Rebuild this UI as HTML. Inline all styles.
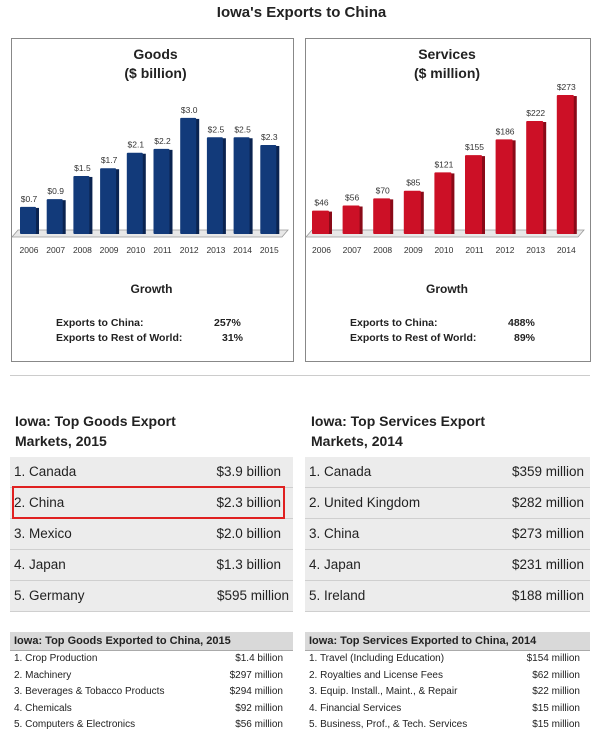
<!DOCTYPE html>
<html><head><meta charset="utf-8">
<style>
body{margin:0;width:603px;height:747px;background:#fff;font-family:"Liberation Sans",sans-serif;position:relative;overflow:hidden;color:#222}
.a{position:absolute}
.panel{position:absolute;border:1px solid #888;background:#fff}
.h{font-weight:bold;font-size:14px;line-height:20px}
.tbl{position:absolute;background:#ececec}
.row{height:30px;border-bottom:1px solid #cfcfcf;font-size:13.5px;line-height:30px;position:relative;padding-left:4px}
.row span.v{position:absolute;right:12px;top:0}
.st{position:absolute}
.st .hd{background:#d9d9d9;font-weight:bold;font-size:11px;height:18px;line-height:18px;padding-left:4px;border-bottom:1px solid #aaa}
.st .r{font-size:10px;height:16.5px;line-height:16.5px;position:relative;padding-left:4px}
.st .r span{position:absolute;right:10px}
</style></head><body>
<div class="a" style="left:0;width:603px;top:4px;text-align:center;font-weight:bold;font-size:15px">Iowa's Exports to China</div>

<div class="panel" style="left:11px;top:38px;width:281px;height:322px"></div>
<div class="panel" style="left:305px;top:38px;width:284px;height:322px"></div>

<svg class="a" style="left:0;top:0" width="603" height="370">
<g id="goods"></g><g id="services"></g>
</svg>

<div class="a" style="left:11px;width:289px;top:45px;text-align:center;font-weight:bold;font-size:14px;line-height:19px">Goods<br>($ billion)</div>
<div class="a" style="left:305px;width:284px;top:45px;text-align:center;font-weight:bold;font-size:14px;line-height:19px">Services<br>($ million)</div>

<div class="a" style="left:11px;width:281px;top:282px;text-align:center;font-weight:bold;font-size:12px">Growth</div>
<div class="a" style="left:56px;top:317px;font-weight:bold;font-size:10.5px">Exports to China:</div>
<div class="a" style="left:214px;top:317px;font-weight:bold;font-size:10.5px">257%</div>
<div class="a" style="left:56px;top:332px;font-weight:bold;font-size:10.5px">Exports to Rest of World:</div>
<div class="a" style="left:222px;top:332px;font-weight:bold;font-size:10.5px">31%</div>

<div class="a" style="left:305px;width:284px;top:282px;text-align:center;font-weight:bold;font-size:12px">Growth</div>
<div class="a" style="left:350px;top:317px;font-weight:bold;font-size:10.5px">Exports to China:</div>
<div class="a" style="left:508px;top:317px;font-weight:bold;font-size:10.5px">488%</div>
<div class="a" style="left:350px;top:332px;font-weight:bold;font-size:10.5px">Exports to Rest of World:</div>
<div class="a" style="left:514px;top:332px;font-weight:bold;font-size:10.5px">89%</div>

<div class="a" style="left:10px;top:375px;width:580px;height:1px;background:#ccc"></div>

<div class="a h" style="left:15px;top:411px">Iowa: Top Goods Export<br>Markets, 2015</div>
<div class="a h" style="left:311px;top:411px">Iowa: Top Services Export<br>Markets, 2014</div>

<div class="tbl" style="left:10px;top:457px;width:283px">
<div class="row">1. Canada<span class="v">$3.9 billion</span></div>
<div class="row">2. China<span class="v">$2.3 billion</span></div>
<div class="row">3. Mexico<span class="v">$2.0 billion</span></div>
<div class="row">4. Japan<span class="v">$1.3 billion</span></div>
<div class="row">5. Germany<span class="v" style="right:4px">$595 million</span></div>
</div>
<div class="a" style="left:12px;top:486px;width:269px;height:29px;border:2px solid #e02020"></div>

<div class="tbl" style="left:305px;top:457px;width:285px">
<div class="row">1. Canada<span class="v" style="right:6px">$359 million</span></div>
<div class="row">2. United Kingdom<span class="v" style="right:6px">$282 million</span></div>
<div class="row">3. China<span class="v" style="right:6px">$273 million</span></div>
<div class="row">4. Japan<span class="v" style="right:6px">$231 million</span></div>
<div class="row">5. Ireland<span class="v" style="right:6px">$188 million</span></div>
</div>

<div class="st" style="left:10px;top:632px;width:283px">
<div class="hd">Iowa: Top Goods Exported to China, 2015</div>
<div class="r">1. Crop Production<span>$1.4 billion</span></div>
<div class="r">2. Machinery<span>$297 million</span></div>
<div class="r">3. Beverages &amp; Tobacco Products<span>$294 million</span></div>
<div class="r">4. Chemicals<span>$92 million</span></div>
<div class="r">5. Computers &amp; Electronics<span>$56 million</span></div>
</div>
<div class="st" style="left:305px;top:632px;width:285px">
<div class="hd">Iowa: Top Services Exported to China, 2014</div>
<div class="r">1. Travel (Including Education)<span>$154 million</span></div>
<div class="r">2. Royalties and License Fees<span>$62 million</span></div>
<div class="r">3. Equip. Install., Maint., &amp; Repair<span>$22 million</span></div>
<div class="r">4. Financial Services<span>$15 million</span></div>
<div class="r">5. Business, Prof., &amp; Tech. Services<span>$15 million</span></div>
</div>

<script>
const goodsYears=["2006","2007","2008","2009","2010","2011","2012","2013","2014","2015"];
const goodsValues=[0.7,0.9,1.5,1.7,2.1,2.2,3.0,2.5,2.5,2.3];
const goodsLabels=["$0.7","$0.9","$1.5","$1.7","$2.1","$2.2","$3.0","$2.5","$2.5","$2.3"];
const servYears=["2006","2007","2008","2009","2010","2011","2012","2013","2014"];
const servValues=[46,56,70,85,121,155,186,222,273];
const servLabels=["$46","$56","$70","$85","$121","$155","$186","$222","$273"];
const NS="http://www.w3.org/2000/svg";
function mk(t,a,p){const e=document.createElementNS(NS,t);for(const k in a)e.setAttribute(k,a[k]);p.appendChild(e);return e;}
function chart(gid,years,vals,labels,x0,step,bw,scale,color,dark,fx0,fx1){
 const g=document.getElementById(gid);const base=234;
 const floor=mk('polygon',{points:`${fx0},237 ${fx1},237 ${fx1+6},230 ${fx0+6},230`,fill:'#e8e8e8',stroke:'#999','stroke-width':0.8},g);
 
 
 years.forEach((y,i)=>{
  const x=x0+i*step,h=vals[i]*scale,top=base-h;
  const side=mk('rect',{x:x+bw-3,y:top+1,width:4,height:h-1,fill:dark},g);
  
  
  const b=mk('rect',{x:x,y:top,width:bw-2,height:h,fill:color,rx:1},g);
  
  
  const t=mk('text',{x:x+bw/2,y:top-5,'text-anchor':'middle','font-size':8.5,fill:'#333','font-family':'Liberation Sans'},g);
  t.textContent=labels[i];
  
  
  const yl=mk('text',{x:x+bw/2,y:253,'text-anchor':'middle','font-size':8.5,fill:'#333','font-family':'Liberation Sans'},g);
  yl.textContent=y;
  
  
 });
}
chart('goods',goodsYears,goodsValues,goodsLabels,20,26.7,18,38.7,'#123a7a','#0a2350',12,282);
chart('services',servYears,servValues,servLabels,312,30.6,19,0.509,'#cc1026','#8a0a18',306,578);
</script>
</body></html>
